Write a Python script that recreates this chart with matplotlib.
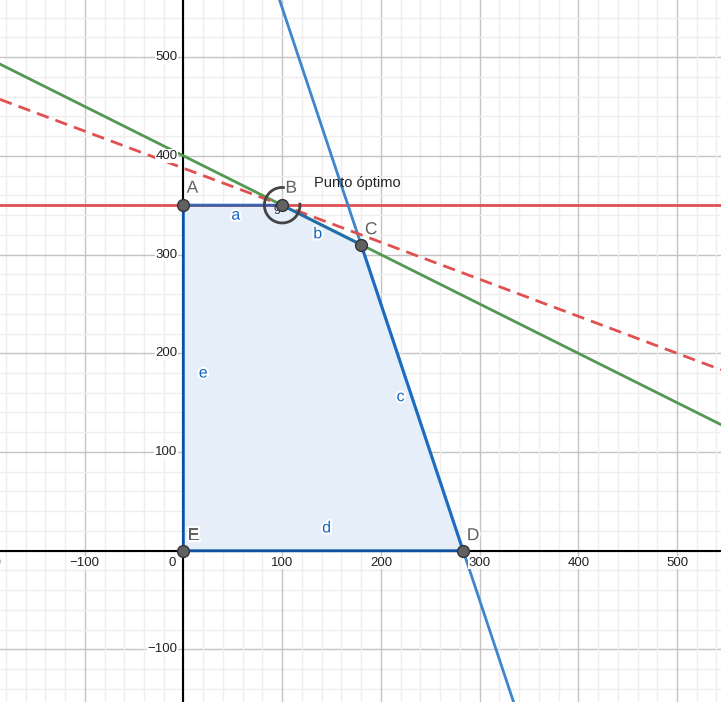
import matplotlib
matplotlib.use("Agg")
import matplotlib.pyplot as plt
from matplotlib.patches import Polygon, Arc
import matplotlib.patheffects as pe

# ── data ────────────────────────────────────────────────────────────────────
vertex_names = ["A", "B", "C", "D", "E"]
vertex_x = [0, 100, 180, 283.3, 0]
vertex_y = [350, 350, 310, 0, 0]

# segment labels (a..e) and where they sit
seg_names = ["a", "b", "c", "d", "e"]
seg_label_x = [53, 136, 220, 145, 20]
seg_label_y = [340, 321, 156, 23, 180]

# constraint lines written as  p*x + q*y = r
green_line = (1, 2, 800)
blue_line = (3, 1, 850)
red_level = 350
objective_line = (3, 8, 3100)   # dashed, through the optimum

optimum_label = "Punto óptimo"
angle_label = "g"

x_ticks = [-200, -100, 100, 200, 300, 400, 500]
y_ticks = [-100, 100, 200, 300, 400, 500]

XMIN, XMAX = -185.9, 544.6
YMIN, YMAX = -153.3, 557.9

plt.rcParams["font.family"] = ["Liberation Sans", "DejaVu Sans"]

fig = plt.figure(figsize=(7.21, 7.02), dpi=100)
ax = fig.add_axes([0, 0, 1, 1])
ax.set_xlim(XMIN, XMAX)
ax.set_ylim(YMIN, YMAX)
ax.axis("off")

# grid: minor every 20, major every 100
for g in range(-200, 601, 20):
    major = g % 100 == 0
    kw = dict(color="#c4c4c4" if major else "#eeeeee", lw=1.0, zorder=0)
    ax.axvline(g, **kw)
    ax.axhline(g, **kw)

# feasible region
xy = list(zip(vertex_x, vertex_y))
ax.add_patch(Polygon(xy, closed=True, facecolor="#e6eef9", edgecolor="none", zorder=1))

# coordinate axes
ax.axhline(0, color="black", lw=1.5, zorder=2)
ax.axvline(0, color="black", lw=1.5, zorder=2)

# constraint lines
ax.axhline(red_level, color="#e05050", lw=2.0, zorder=3)
p, q, r = green_line
ax.axline((0, r / q), slope=-p / q, color="#4f9a4f", lw=2.0, zorder=3)
p, q, r = blue_line
ax.axline((0, r / q), slope=-p / q, color="#3d85cc", lw=2.0, zorder=3)
p, q, r = objective_line
ax.axline((0, r / q), slope=-p / q, color="#e05050", lw=2.0,
          dashes=(4.5, 2.6), zorder=3)

# polygon edges
ex = vertex_x + [vertex_x[0]]
ey = vertex_y + [vertex_y[0]]
ax.plot(ex, ey, color="#1565c0", lw=2.2, alpha=0.8, zorder=4,
        solid_capstyle="round")

# angle marker around B
ax.add_patch(Arc((vertex_x[1], vertex_y[1]), 36, 36, theta1=78, theta2=368,
                 color="#444444", lw=2.0, zorder=5))
ax.text(vertex_x[1] - 5, vertex_y[1] - 3, angle_label, fontsize=9,
        color="#333333", ha="center", va="center", zorder=6)

# points
ax.plot(vertex_x, vertex_y, "o", ms=8.5, mfc="#616161", mec="#333333",
        mew=1.0, zorder=7)
label_offsets = [(9, 17), (9, 17), (10, 15), (10, 15), (10, 15)]
halo = [pe.withStroke(linewidth=3, foreground="white")]
for n, x, y, off in zip(vertex_names, vertex_x, vertex_y, label_offsets):
    ax.annotate(n, (x, y), xytext=off, textcoords="offset pixels",
                fontsize=12.5, color="#616161", ha="center", va="center",
                zorder=8, path_effects=halo)

for n, x, y in zip(seg_names, seg_label_x, seg_label_y):
    ax.text(x, y, n, fontsize=11.5, color="#1565c0", ha="center",
            va="center", zorder=8, path_effects=halo)

ax.text(132, 372.5, optimum_label, fontsize=10.5, color="#222222",
        ha="left", va="center", zorder=8)

# tick labels
tick_kw = dict(fontsize=9.5, color="#222222", zorder=6,
               bbox=dict(facecolor="white", edgecolor="none", pad=0.6))
for t in x_ticks:
    ax.annotate(f"{t}".replace("-", "\u2212"), (t, 0), xytext=(0, -12),
                textcoords="offset pixels", ha="center", va="center",
                annotation_clip=False, **tick_kw)
ax.annotate("0", (0, 0), xytext=(-11, -12), textcoords="offset pixels",
            ha="center", va="center", **tick_kw)
for t in y_ticks:
    ax.annotate(f"{t}".replace("-", "\u2212"), (0, t), xytext=(-6, 0),
                textcoords="offset pixels", ha="right", va="center", **tick_kw)

fig.savefig("out.png", dpi=100)
